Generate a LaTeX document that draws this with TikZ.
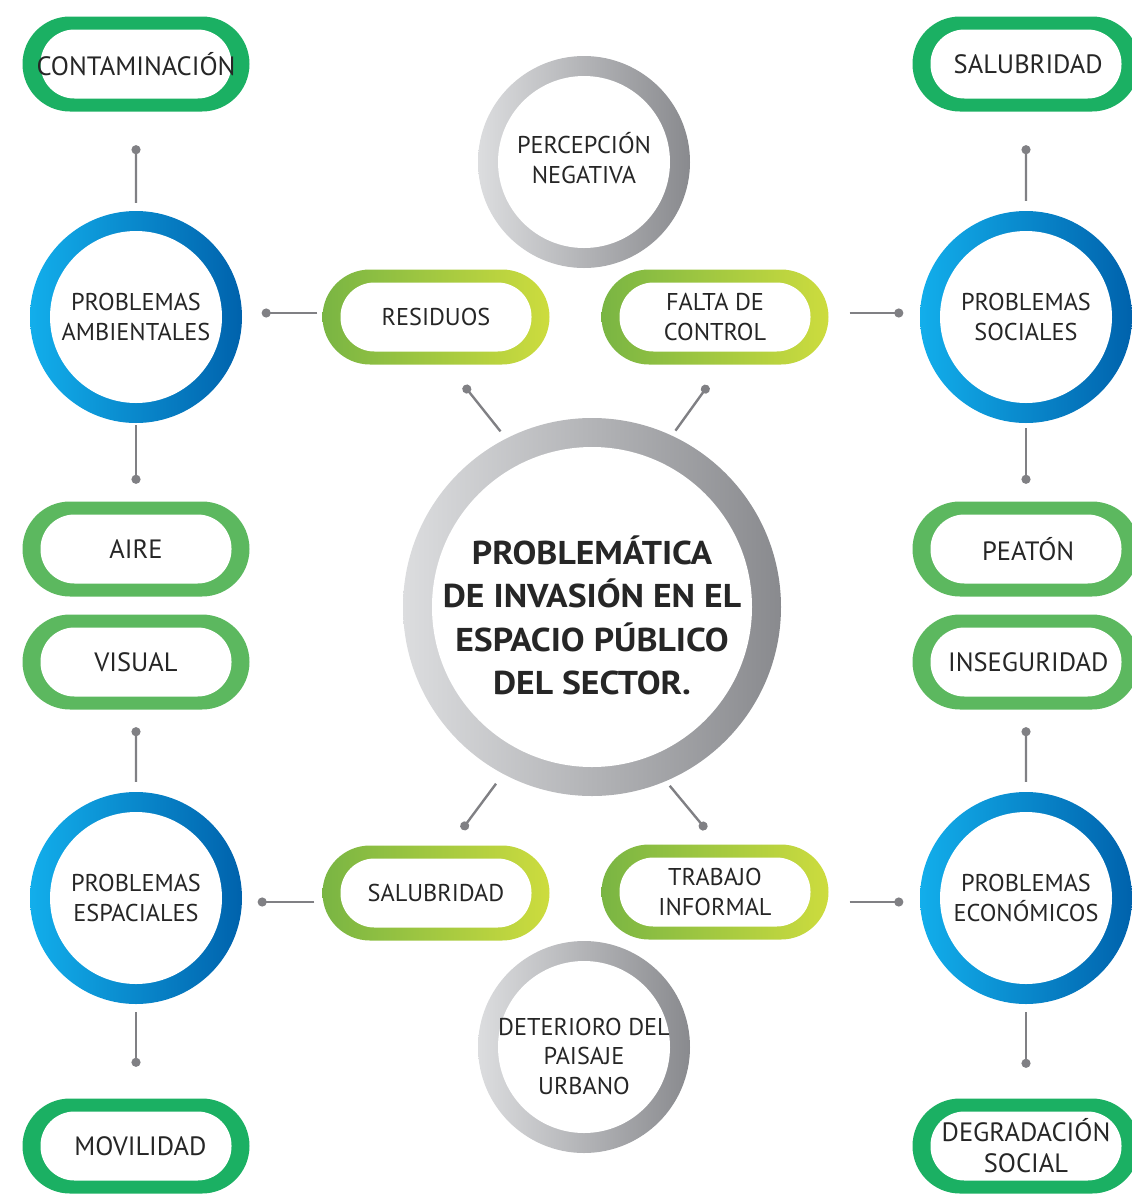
\documentclass[tikz,border=0pt]{standalone}
\usepackage{fontspec}
\setmainfont{PT Sans}
\newfontfamily\ctrfam{PT Sans}[FakeStretch=1.08]
\usetikzlibrary{shapes.misc,arrows.meta,calc}
\definecolor{gA}{HTML}{1BB063}
\definecolor{gB}{HTML}{5CB85F}
\definecolor{gL}{HTML}{79B543}
\definecolor{gR}{HTML}{CDDC3E}
\definecolor{bL}{HTML}{12AEEB}
\definecolor{bR}{HTML}{0062AC}
\definecolor{kL}{HTML}{DCDDDF}
\definecolor{kR}{HTML}{898A8E}
\definecolor{cg}{HTML}{808084}
\definecolor{txt}{HTML}{262626}
\newcommand\lblfont{\fontsize{24.3}{29.5}\selectfont}
\newcommand\outfont{\fontsize{26.5}{31}\selectfont}
\newcommand\ctrfont{\ctrfam\fontsize{33}{43.5}\selectfont\bfseries}
\newcommand\toplines[2]{\raisebox{#1}[0pt][0pt]{\begin{tabular}[t]{@{}c@{}}#2\end{tabular}}}
\begin{document}
\begin{tikzpicture}[x=1pt,y=-1pt,
 pill/.style={rounded rectangle, minimum width=227pt, minimum height=95pt, inner sep=0pt, text=txt, font=\lblfont, align=center,
   path picture={\fill[white, rounded corners=34pt] ($(path picture bounding box.south west)+(18pt,13pt)$) rectangle ($(path picture bounding box.north east)+(-18pt,-13pt)$);}},
 solidA/.style={pill, fill=gA, font=\outfont},
 solidB/.style={pill, fill=gB, font=\outfont},
 gradpill/.style={pill, left color=gL, right color=gR},
 ring/.style 2 args={circle, minimum size=#1, inner sep=0pt, text=txt, font=\lblfont, align=center, path picture={\fill[white] (path picture bounding box.center) circle (#2);}},
 bluering/.style={ring={212pt}{86pt}, left color=bL, right color=bR},
 grayring/.style={ring={212pt}{86pt}, left color=kL, right color=kR},
 bigring/.style={ring={378pt}{160pt}, left color=kL, right color=kR, font=\ctrfont},
 conn/.style={draw=cg, line width=2.4pt},
 dotS/.style={conn, {Circle[length=9pt]}-},
 dotE/.style={conn, -{Circle[length=9pt]}},
]
\useasboundingbox (0,0) rectangle (1132,1195);
\clip (0,0) rectangle (1132,1195);
\node[solidA] (cont) at (136,64) {CONTAMINACIÓN};
\node[solidA] (salT) at (1026,64) {\,SALUBRIDAD};
\node[grayring] (perc) at (584,162) {\toplines{8.5pt}{PERCEPCIÓN\\NEGATIVA}};
\node[bluering] (amb) at (136,317) {PROBLEMAS\\AMBIENTALES};
\node[gradpill] (res) at (436,317) {RESIDUOS};
\node[gradpill] (fal) at (715,317) {FALTA DE\\CONTROL};
\node[bluering] (soc) at (1026,317) {PROBLEMAS\\SOCIALES};
\node[solidB] (aire) at (136,549) {AIRE};
\node[solidB] (vis) at (136,662) {VISUAL};
\node[solidB] (peat) at (1026,549) {\,PEATÓN};
\node[solidB] (ins) at (1026,662) {\,INSEGURIDAD};
\node[bigring] (c) at (592,607) {\toplines{43pt}{PROBLEMÁTICA\\DE INVASIÓN EN EL\\ESPACIO PÚBLICO\\DEL SECTOR.}};
\node[bluering] (esp) at (136,898) {PROBLEMAS\\ESPACIALES};
\node[gradpill] (salB) at (436,893) {SALUBRIDAD};
\node[gradpill] (trab) at (715,892) {TRABAJO\\INFORMAL};
\node[bluering] (eco) at (1026,898) {PROBLEMAS\\ECONÓMICOS};
\node[grayring] (det) at (584,1047) {\toplines{12pt}{DETERIORO DEL\\PAISAJE\\URBANO}};
\node[solidA] (mov) at (136,1146) {\,\,MOVILIDAD};
\node[solidA] (deg) at (1026,1146) {DEGRADACIÓN\\SOCIAL};
% connectors
\draw[dotS, shorten <=33.5pt, shorten >=8pt] (cont) -- (amb);
\draw[dotE, shorten <=2pt, shorten >=17.5pt] (amb) -- (aire);
\draw[dotE, shorten <=5pt, shorten >=19.5pt] ([yshift=4pt]res.west) -- ([yshift=4pt]amb.east);
\coordinate (d1) at ($(res.center)+(28pt,-68.5pt)$);
\draw[dotE, shorten <=9pt] (c.117.5) -- (d1);
\coordinate (d2) at ($(fal.center)+(-7pt,-68.5pt)$);
\draw[dotE, shorten <=6pt] (c.65.4) -- (d2);
\coordinate (d3) at ($(salB.center)+(26pt,63.5pt)$);
\draw[dotE, shorten <=12pt] (c.242) -- (d3);
\coordinate (d4) at ($(trab.center)+(-9pt,62.5pt)$);
\draw[dotE, shorten <=6pt] (c.293.5) -- (d4);
\draw[dotE, shorten <=21pt, shorten >=16.5pt] ([yshift=4pt]fal.east) -- ([yshift=4pt]soc.west);
\draw[dotS, shorten <=33.5pt, shorten >=10pt] (salT) -- (soc);
\draw[dotE, shorten <=5pt, shorten >=17.5pt] (soc) -- (peat);
\draw[dotS, shorten <=17.5pt, shorten >=10pt] (vis) -- (esp);
\draw[dotE, shorten <=8pt, shorten >=15.5pt] ([yshift=-9pt]salB.west) -- ([yshift=-4pt]esp.east);
\draw[dotE, shorten <=21pt, shorten >=16.5pt] ([yshift=-10pt]trab.east) -- ([yshift=-4pt]eco.west);
\draw[dotS, shorten <=17.5pt, shorten >=10pt] (ins) -- (eco);
\draw[dotE, shorten <=8pt, shorten >=31.5pt] (esp) -- (mov);
\draw[dotE, shorten <=8pt, shorten >=30.5pt] (eco) -- (deg);
\end{tikzpicture}
\end{document}
